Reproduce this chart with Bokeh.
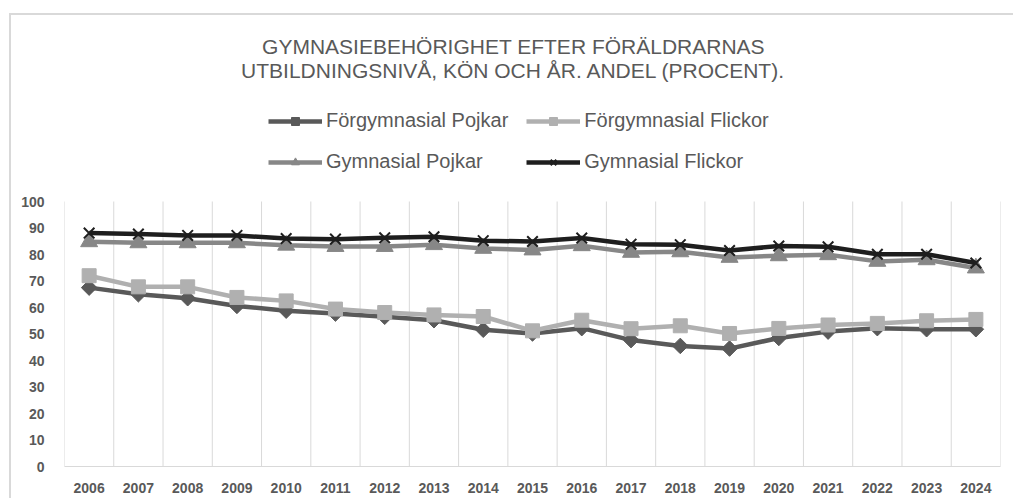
from bokeh.plotting import figure
from bokeh.models import (ColumnDataSource, Range1d, FixedTicker, Legend,
                          LegendItem, Label)
from bokeh.embed import file_html
from bokeh.resources import INLINE
import numpy as np

# ---------------- data ----------------
years = [str(y) for y in range(2006, 2025)]
forgym_pojkar = [67.5, 65.0, 63.5, 60.6, 58.8, 57.7, 56.5, 55.2, 51.6, 50.2,
                 52.2, 47.7, 45.5, 44.5, 48.5, 50.9, 52.2, 51.8, 51.8]
forgym_flickor = [72.0, 67.8, 67.8, 63.8, 62.5, 59.4, 58.1, 57.2, 56.6, 51.2,
                  55.2, 52.0, 53.1, 50.2, 52.1, 53.4, 54.0, 55.0, 55.5]
gym_pojkar = [84.8, 84.4, 84.4, 84.4, 83.5, 83.0, 83.0, 83.7, 82.3, 81.7,
              83.3, 80.8, 81.0, 78.9, 79.5, 79.9, 77.4, 78.0, 74.9]
gym_flickor = [88.1, 87.7, 87.2, 87.2, 86.0, 85.8, 86.3, 86.7, 85.2, 84.9,
               86.2, 83.9, 83.7, 81.5, 83.2, 82.9, 80.1, 80.1, 76.8]
series_names = ["Förgymnasial Pojkar", "Förgymnasial Flickor",
                "Gymnasial Pojkar", "Gymnasial Flickor"]
title_lines = ["GYMNASIEBEHÖRIGHET EFTER FÖRÄLDRARNAS",
               "UTBILDNINGSNIVÅ, KÖN OCH ÅR. ANDEL (PROCENT)."]
y_ticks = list(range(0, 101, 10))

FONT = "Liberation Sans"
TXT = "#595959"
GRID = "#d9d9d9"

# layout (canvas pixels)
W, H = 1004, 485
B_LEFT, B_RIGHT, B_BOTTOM = 53, 15, 34
PLOT_H = 265                      # pixel height of 0..100 value band
FRAME_H = H - B_BOTTOM            # frame covers title + legend area too
Y_TOP = y_ticks[-1] * FRAME_H / PLOT_H

idx = list(range(len(years)))
src = ColumnDataSource(dict(x=idx, fp=forgym_pojkar, ff=forgym_flickor,
                            gp=gym_pojkar, gf=gym_flickor))

p = figure(width=W, height=H, output_backend="svg", toolbar_location=None,
           x_range=Range1d(-0.5, len(years) - 0.5), y_range=Range1d(0, Y_TOP),
           min_border_left=B_LEFT, min_border_right=B_RIGHT, min_border_top=0,
           min_border_bottom=B_BOTTOM)
p.styles = {"margin-left": "9px", "margin-top": "13px",
            "border-left": "2px solid #d9d9d9", "border-top": "2px solid #d9d9d9"}
p.outline_line_color = None
p.background_fill_color = "white"
p.border_fill_color = "white"
p.xgrid.visible = False
p.ygrid.visible = False

# vertical grid lines at category boundaries, spanning the value band
bounds = [i - 0.5 for i in range(len(years) + 1)]
p.segment(x0=bounds, x1=bounds, y0=[y_ticks[0]] * len(bounds),
          y1=[y_ticks[-1]] * len(bounds), line_color=GRID, line_width=1)

# axes
xa = p.xaxis[0]
xa.ticker = FixedTicker(ticks=idx)
xa.major_label_overrides = {i: y for i, y in zip(idx, years)}
xa.axis_line_color = GRID
xa.major_tick_line_color = None
xa.minor_tick_line_color = None
xa.major_label_text_font = FONT
xa.major_label_text_font_style = "bold"
xa.major_label_text_font_size = "14px"
xa.major_label_text_color = TXT
xa.major_label_standoff = 10

ya = p.yaxis[0]
ya.ticker = FixedTicker(ticks=y_ticks)
ya.axis_line_color = None
ya.major_tick_line_color = None
ya.minor_tick_line_color = None
ya.major_label_text_font = FONT
ya.major_label_text_font_style = "bold"
ya.major_label_text_font_size = "14px"
ya.major_label_text_color = TXT
ya.major_label_standoff = 14

LW = 4.5
specs = [
    ("fp", "#595959", dict(marker="square", size=11, angle=np.pi / 4)),
    ("ff", "#b0b0b0", dict(marker="square", size=14)),
    ("gp", "#878787", dict(marker="triangle", size=17)),
    ("gf", "#1e1e1e", dict(marker="x", size=15, line_width=2)),
]
items = []
for (col, color, mk), name in zip(specs, series_names):
    ln = p.line("x", col, source=src, line_color=color, line_width=LW)
    sc = p.scatter("x", col, source=src, fill_color=color, line_color=color, **mk)
    items.append(LegendItem(label=name, renderers=[ln, sc]))

legend = Legend(items=items, location=(204, 293), orientation="horizontal",
                ncols=2, padding=0, spacing=18, margin=0, glyph_width=54,
                glyph_height=20, label_height=20, label_standoff=4,
                label_text_font=FONT, label_text_font_size="20px",
                label_text_color=TXT, border_line_color=None,
                background_fill_alpha=0)
p.add_layout(legend)

# two-line title
for line, ypos in zip(title_lines, [420, 396]):
    p.add_layout(Label(x=449, y=ypos, x_units="screen", y_units="screen",
                       text=line, text_align="center", text_baseline="middle",
                       text_font=FONT, text_font_size="21px", text_color=TXT))

open("out.html", "w").write(file_html(p, INLINE))
